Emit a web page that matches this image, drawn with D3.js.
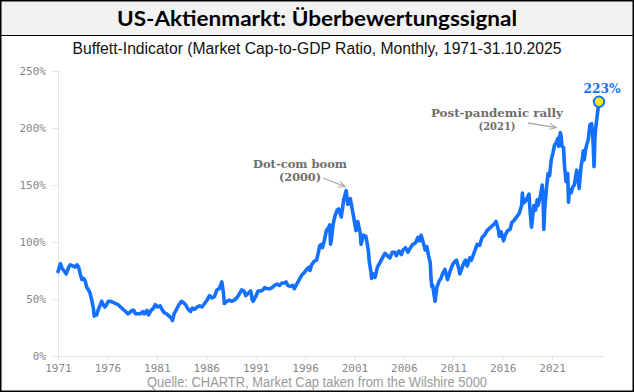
<!DOCTYPE html>
<html><head><meta charset="utf-8">
<script src="https://cdn.jsdelivr.net/npm/d3@7"></script>
<style>html,body{margin:0;padding:0;background:#fff;} svg{display:block}</style>
</head><body><svg id="c" width="634" height="392"></svg>
<script>
// ---- data ----
const dates = [
"1971-01","1971-04","1971-06","1971-08","1971-11","1972-02","1972-04","1972-07","1972-10","1972-12",
"1973-02","1973-04","1973-06","1973-08","1973-10","1973-12","1974-02","1974-04","1974-06","1974-08",
"1974-09","1974-10","1974-12","1975-02","1975-04","1975-06","1975-08","1975-10","1975-12","1976-02",
"1976-05","1976-08","1976-11","1977-02","1977-05","1977-08","1977-11","1978-02","1978-04","1978-07",
"1978-09","1978-11","1979-02","1979-05","1979-08","1979-10","1980-01","1980-03","1980-06","1980-09",
"1980-11","1981-02","1981-05","1981-08","1981-10","1982-01","1982-04","1982-07","1982-08","1982-10",
"1983-01","1983-04","1983-07","1983-09","1983-12","1984-03","1984-06","1984-08","1984-11","1985-02",
"1985-05","1985-08","1985-11","1986-02","1986-05","1986-08","1986-11","1987-02","1987-05","1987-08",
"1987-10","1987-11","1988-02","1988-05","1988-08","1988-11","1989-02","1989-05","1989-08","1989-11",
"1990-01","1990-04","1990-07","1990-09","1990-10","1991-01","1991-04","1991-07","1991-10","1991-12",
"1992-03","1992-06","1992-09","1992-12","1993-03","1993-06","1993-09","1993-12","1994-02","1994-04",
"1994-07","1994-10","1994-12","1995-03","1995-06","1995-09","1995-12","1996-03","1996-06","1996-07",
"1996-09","1996-12","1997-03","1997-05","1997-07","1997-09","1997-10","1997-12","1998-03","1998-06",
"1998-07","1998-08","1998-09","1998-11","1999-01","1999-04","1999-06","1999-09","1999-12","2000-03",
"2000-05","2000-08","2000-10","2000-12","2001-03","2001-05","2001-08","2001-09","2001-12","2002-03",
"2002-06","2002-07","2002-09","2002-10","2002-12","2003-02","2003-05","2003-08","2003-11","2004-02",
"2004-05","2004-08","2004-11","2005-02","2005-04","2005-07","2005-10","2005-12","2006-03","2006-06",
"2006-09","2006-12","2007-03","2007-06","2007-08","2007-10","2007-12","2008-03","2008-05","2008-07",
"2008-09","2008-10","2008-11","2008-12","2009-02","2009-03","2009-05","2009-08","2009-10","2009-12",
"2010-03","2010-05","2010-06","2010-09","2010-12","2011-03","2011-05","2011-08","2011-09","2011-11",
"2012-02","2012-04","2012-06","2012-09","2012-11","2013-02","2013-06","2013-09","2013-12","2014-03",
"2014-06","2014-09","2014-12","2015-03","2015-05","2015-08","2015-09","2015-11","2016-02","2016-04",
"2016-07","2016-10","2016-12","2017-03","2017-06","2017-09","2017-12","2018-01","2018-02","2018-05",
"2018-09","2018-10","2018-12","2019-03","2019-05","2019-07","2019-08","2019-11","2020-01","2020-02",
"2020-03","2020-04","2020-06","2020-08","2020-10","2020-12","2021-02","2021-04","2021-06","2021-08",
"2021-09","2021-11","2021-12","2022-01","2022-03","2022-04","2022-06","2022-08","2022-09","2022-10",
"2022-12","2023-02","2023-04","2023-07","2023-10","2023-12","2024-02","2024-03","2024-04","2024-06",
"2024-07","2024-09","2024-11","2024-12","2025-01","2025-02","2025-03","2025-04","2025-05","2025-06",
"2025-08","2025-09","2025-10"];
const values = [
74,81,77,75,72,78,80,79,78,80,
78,72,67,68,66,60,58,55,49,42,
35,37,36,41,44,48,45,43,45,48,
48,47,46,45,43,41,39,37,38,40,
40,37,37,37,39,37,40,36,40,42,
45,43,44,40,38,37,35,33,31,37,
41,45,48,47,45,41,39,42,41,43,
44,43,46,49,53,51,52,58,59,65,
55,46,48,49,48,49,51,54,58,57,
53,55,57,49,48,52,57,57,58,60,
59,59,60,62,63,62,64,64,65,62,
61,62,59,63,67,71,73,76,78,75,
80,83,84,90,97,98,95,100,110,113,
115,98,102,115,122,128,129,122,137,145,
133,138,130,122,110,118,108,98,106,105,
92,83,74,68,72,69,78,82,86,90,
88,86,91,91,88,92,89,93,95,91,
95,98,99,104,101,106,101,93,96,88,
82,68,61,62,52,48,60,66,68,72,
76,70,67,74,80,83,84,76,72,76,
82,84,79,86,84,90,98,97,104,106,
110,112,114,116,118,110,105,109,101,106,
110,111,117,119,122,125,132,143,134,136,
142,130,113,132,128,137,132,141,150,140,
111,128,145,160,158,172,178,185,187,191,
184,196,193,184,183,168,153,160,135,146,
143,148,150,163,147,165,174,180,172,182,
185,190,203,198,204,197,185,166,190,200,
212,218,223];
const yTicks = [0, 50, 100, 150, 200, 250];
const xTickYears = [1971,1976,1981,1986,1991,1996,2001,2006,2011,2016,2021];
const titleText = "US-Aktienmarkt: Überbewertungssignal";
const subtitleText = "Buffett-Indicator (Market Cap-to-GDP Ratio, Monthly, 1971-31.10.2025";
const sourceText = "Quelle: CHARTR, Market Cap taken from the Wilshire 5000";
const dotcomLabel = ["Dot-com boom", "(2000)"];
const pandemicLabel = ["Post-pandemic rally", "(2021)"];
const lastLabel = "223%";

// ---- drawing ----
const W = 634, H = 392;
const svg = d3.select("#c");
const parse = d3.timeParse("%Y-%m");
const data = dates.map((d, i) => ({date: parse(d), value: values[i]}));

const x = d3.scaleTime().domain([parse("1971-01"), parse("2025-10")]).range([58, 599]);
const y = d3.scaleLinear().domain([0, 250]).range([356, 71]);

// background & title band
svg.append("rect").attr("x",0).attr("y",0).attr("width",W).attr("height",H).attr("fill","#fff");
svg.append("rect").attr("x",0).attr("y",0).attr("width",W).attr("height",35).attr("fill","#f2f2f2");
svg.append("line").attr("x1",0).attr("x2",W).attr("y1",35.5).attr("y2",35.5).attr("stroke","#000").attr("stroke-width",1.2);
svg.append("rect").attr("x",0.75).attr("y",0.75).attr("width",W-1.5).attr("height",H-1.5)
  .attr("fill","none").attr("stroke","#000").attr("stroke-width",1.5);

svg.append("text").attr("x",317).attr("y",26).attr("text-anchor","middle")
  .attr("font-family","Lato, 'Open Sans', sans-serif").attr("font-weight","bold").attr("font-size",21)
  .attr("fill","#000").attr("textLength",400).attr("lengthAdjust","spacingAndGlyphs").text(titleText);

svg.append("text").attr("x",317).attr("y",54).attr("text-anchor","middle")
  .attr("font-family","'Liberation Sans', Arial, sans-serif").attr("font-size",16)
  .attr("fill","#111").attr("textLength",489).attr("lengthAdjust","spacingAndGlyphs").text(subtitleText);

svg.append("text").attr("x",317).attr("y",387).attr("text-anchor","middle")
  .attr("font-family","'Liberation Sans', Arial, sans-serif").attr("font-size",14)
  .attr("fill","#9a9a9a").attr("textLength",340).attr("lengthAdjust","spacingAndGlyphs").text(sourceText);

// axes
const axisColor = "#e2e2e2", labelColor = "#888888";
const yAxis = svg.append("g").attr("transform","translate(58,0)")
  .call(d3.axisLeft(y).tickValues(yTicks).tickSize(5).tickPadding(7).tickFormat(d => d + "%"));
yAxis.select(".domain").remove();
yAxis.selectAll("line").attr("stroke", axisColor);
yAxis.selectAll("text").attr("fill", labelColor).attr("font-family","'DejaVu Sans Mono', monospace").attr("font-size",11);

svg.append("line").attr("x1",58.5).attr("x2",58.5).attr("y1",y(250)).attr("y2",y(0)).attr("stroke",axisColor).attr("stroke-width",1);

const xAxis = svg.append("g").attr("transform",`translate(0,${y(0)})`)
  .call(d3.axisBottom(x).tickValues(xTickYears.map(v => new Date(v,0,1))).tickSize(4).tickPadding(4)
    .tickFormat(d3.timeFormat("%Y")));
xAxis.select(".domain").remove();
xAxis.selectAll("line").attr("stroke", axisColor);
xAxis.selectAll("text").attr("fill", labelColor).attr("font-family","'DejaVu Sans Mono', monospace").attr("font-size",11);
svg.append("line").attr("x1",58).attr("x2",604).attr("y1",y(0)+0.5).attr("y2",y(0)+0.5).attr("stroke",axisColor).attr("stroke-width",1);

// line
const blue = "#1471ff";
svg.append("path").datum(data)
  .attr("fill","none").attr("stroke",blue).attr("stroke-width",3.6)
  .attr("stroke-linejoin","round").attr("stroke-linecap","round")
  .attr("d", d3.line().x(d => x(d.date)).y(d => y(d.value)));

// annotations
const defs = svg.append("defs");
defs.append("marker").attr("id","arr").attr("viewBox","0 0 10 10").attr("refX",9).attr("refY",5)
  .attr("markerWidth",6).attr("markerHeight",6).attr("orient","auto")
  .append("path").attr("d","M0,1 L9,5 L0,9").attr("fill","none").attr("stroke","#a8a8a8").attr("stroke-width",1.4);

function annot(lines, cx, y0, widths, arrow) {
  lines.forEach((t, i) => {
    svg.append("text").attr("x",cx).attr("y",y0 + i*13).attr("text-anchor","middle")
      .attr("font-family","'DejaVu Serif', serif").attr("font-size",10.5).attr("font-weight","bold")
      .attr("fill","#6e6e6e").attr("textLength",widths[i]).attr("lengthAdjust","spacingAndGlyphs").text(t);
  });
  svg.append("line").attr("x1",arrow[0]).attr("y1",arrow[1]).attr("x2",arrow[2]).attr("y2",arrow[3])
    .attr("stroke","#a8a8a8").attr("stroke-width",1.3).attr("marker-end","url(#arr)");
}
const peak2000 = data.find(d => d3.timeFormat("%Y-%m")(d.date) === "2000-03");
const peak2021 = data.find(d => d3.timeFormat("%Y-%m")(d.date) === "2021-11");
annot(dotcomLabel, 300, 168, [94, 42], [323, 178, x(peak2000.date) - 1, y(peak2000.value) - 4]);
annot(pandemicLabel, 497, 117, [132, 37], [528, 123, x(peak2021.date) - 4, y(peak2021.value) - 5]);

// last point
const last = data[data.length - 1];
svg.append("circle").attr("cx", x(last.date)).attr("cy", y(last.value)).attr("r",5.2)
  .attr("fill","#fde61b").attr("stroke",blue).attr("stroke-width",2);
svg.append("text").attr("x", x(last.date) + 3).attr("y", y(last.value) - 9).attr("text-anchor","middle")
  .attr("font-family","'DejaVu Serif', serif").attr("font-weight","bold").attr("font-size",12)
  .attr("fill",blue).attr("textLength",37).attr("lengthAdjust","spacingAndGlyphs").text(lastLabel);
</script>
</body></html>
